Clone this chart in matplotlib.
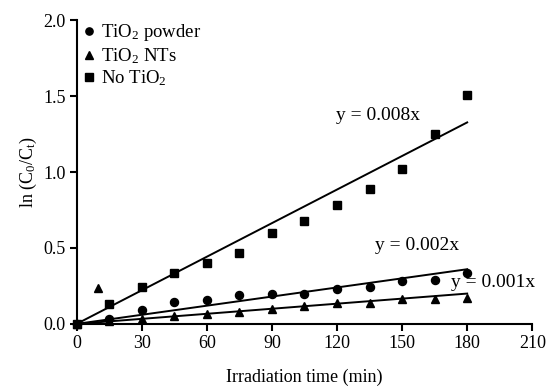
import matplotlib
matplotlib.use("Agg")
import matplotlib.pyplot as plt
import numpy as np

plt.rcParams['font.family'] = ['Liberation Serif', 'DejaVu Serif']
plt.rcParams['mathtext.fontset'] = 'custom'
plt.rcParams['mathtext.rm'] = 'Liberation Serif'
plt.rcParams['mathtext.it'] = 'Liberation Serif:italic'
plt.rcParams['mathtext.default'] = 'rm'

# Data
time_powder = [0, 15, 30, 45, 60, 75, 90, 105, 120, 135, 150, 165, 180]
powder = [0.0, 0.03, 0.09, 0.147, 0.158, 0.19, 0.197, 0.20, 0.23, 0.24, 0.285, 0.29, 0.333]

time_nts = [0, 10, 15, 30, 45, 60, 75, 90, 105, 120, 135, 150, 165, 180]
nts = [0.0, 0.237, 0.02, 0.03, 0.055, 0.066, 0.08, 0.099, 0.118, 0.14, 0.14, 0.162, 0.162, 0.173]

time_none = [0, 15, 30, 45, 60, 75, 90, 105, 120, 135, 150, 165, 180]
none = [0.0, 0.13, 0.24, 0.335, 0.40, 0.47, 0.60, 0.675, 0.785, 0.89, 1.02, 1.25, 1.51]

# fitted slopes (drawn lines) and their labels
fit_slopes = [0.00737, 0.002, 0.00111]
fit_labels = ['y = 0.008x', 'y = 0.002x', 'y = 0.001x']
label_pos = [(139, 1.375), (157, 0.515), (192, 0.27)]
fit_range = [0, 180]

labels = ['TiO$_2$ powder', 'TiO$_2$ NTs', 'No TiO$_2$']

fig = plt.figure(figsize=(5.51, 3.87), dpi=100)
ax = fig.add_axes([0.139, 0.163, 0.827, 0.785])

ms = 5.8
ax.plot(time_powder, powder, 'o', color='black', ms=ms, label=labels[0], clip_on=False, zorder=3)
ax.plot(time_nts, nts, '^', color='black', ms=ms, label=labels[1], clip_on=False, zorder=3)
ax.plot(time_none, none, 's', color='black', ms=ms, label=labels[2], clip_on=False, zorder=3)

xs = np.array(fit_range)
for s in fit_slopes:
    ax.plot(xs, s * xs, '-', color='black', lw=1.4, clip_on=False)

for (x, y), t in zip(label_pos, fit_labels):
    ax.text(x, y, t, ha='center', va='center', fontsize=14)

ax.set_xlim(0, 210)
ax.set_ylim(0, 2.0)
ax.set_xticks([0, 30, 60, 90, 120, 150, 180, 210])
ax.set_yticks([0.0, 0.5, 1.0, 1.5, 2.0])
ax.set_yticklabels(['0.0', '0.5', '1.0', '1.5', '2.0'])
for sp in ['top', 'right']:
    ax.spines[sp].set_visible(False)
for sp in ['left', 'bottom']:
    ax.spines[sp].set_linewidth(1.5)
ax.tick_params(direction='out', length=5, width=1.5, labelsize=13, pad=3)

ax.set_xlabel('Irradiation time (min)', fontsize=13, labelpad=12)
ax.set_ylabel('ln (C$_0$/C$_t$)', fontsize=13, labelpad=3)

leg = ax.legend(loc='upper left', bbox_to_anchor=(-0.01, 1.03), frameon=False, fontsize=13.5,
                handlelength=0.6, handletextpad=0.35, labelspacing=0.15, borderaxespad=0.2,
                markerscale=0.9)

fig.savefig('out.png', dpi=100)
